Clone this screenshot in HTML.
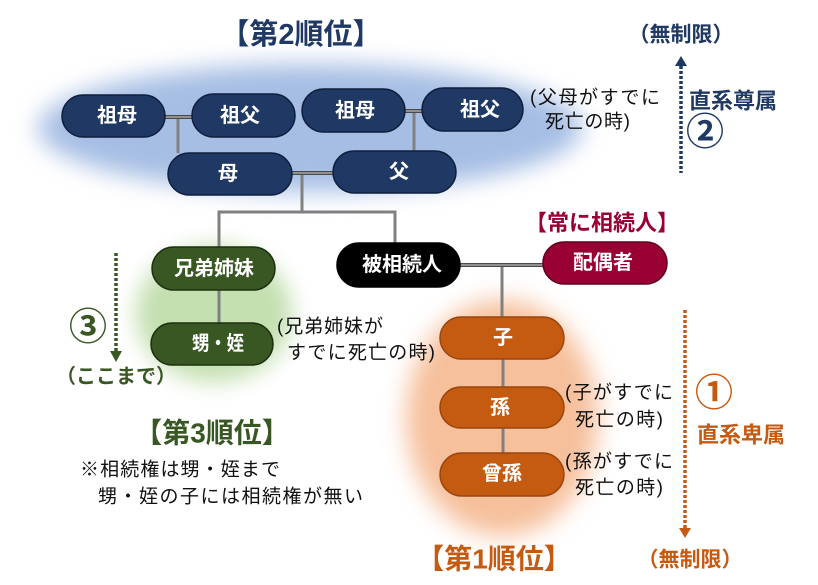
<!DOCTYPE html>
<html><head><meta charset="utf-8">
<style>
html,body{margin:0;padding:0;background:#fff;}
svg{display:block;}
text{font-family:"Liberation Sans","Noto Sans CJK JP",sans-serif;}
.n{font-weight:bold;font-size:20px;fill:#fff;text-anchor:middle;dominant-baseline:central;}
.t{font-size:19px;fill:#111;dominant-baseline:central;}
.b{font-weight:bold;dominant-baseline:central;}
</style></head>
<body>
<svg width="818" height="585" viewBox="0 0 818 585" xmlns="http://www.w3.org/2000/svg">
<defs>
<filter id="bl" x="-30%" y="-30%" width="160%" height="160%"><feGaussianBlur stdDeviation="12"/></filter>
<filter id="bl2" x="-30%" y="-30%" width="160%" height="160%"><feGaussianBlur stdDeviation="11"/></filter>
</defs>
<rect width="818" height="585" fill="#fff"/>

<!-- soft backgrounds -->
<ellipse cx="310" cy="128" rx="272" ry="64" fill="#a6bee4" filter="url(#bl)"/>
<ellipse cx="214" cy="314" rx="78" ry="68" fill="#c4dfb0" filter="url(#bl2)"/>
<ellipse cx="502" cy="418" rx="96" ry="118" fill="#f6c09b" filter="url(#bl)"/>

<!-- connectors -->
<g stroke="#808080" stroke-width="3" fill="none">
<line x1="178" y1="117" x2="178" y2="153"/>
<line x1="414" y1="111" x2="414" y2="151"/>
<line x1="302" y1="173" x2="302" y2="212"/>
<polyline points="219,247 219,212 395,212 395,243"/>
<line x1="219" y1="290" x2="219" y2="323"/>
<line x1="502" y1="265" x2="502" y2="317"/>
<line x1="503" y1="359" x2="503" y2="387"/>
<line x1="503" y1="428" x2="503" y2="453"/>
</g>
<g fill="none">
<g stroke="#4a4a4a" stroke-width="4">
<line x1="165" y1="117" x2="192" y2="117"/>
<line x1="405" y1="111" x2="422" y2="111"/>
<line x1="292" y1="173" x2="333" y2="173"/>
<line x1="460" y1="265" x2="543" y2="265"/>
</g>
<g stroke="#a8a8a8" stroke-width="1.5">
<line x1="165" y1="117" x2="192" y2="117"/>
<line x1="405" y1="111" x2="422" y2="111"/>
<line x1="292" y1="173" x2="333" y2="173"/>
<line x1="460" y1="265" x2="543" y2="265"/>
</g>
</g>

<!-- nodes -->
<g stroke-width="1.5">
<rect x="62" y="95" width="103" height="42" rx="21" fill="#1f3864" stroke="#0f1f3c"/>
<rect x="192" y="94" width="103" height="43" rx="21.5" fill="#1f3864" stroke="#0f1f3c"/>
<rect x="302" y="89" width="103" height="43" rx="21.5" fill="#1f3864" stroke="#0f1f3c"/>
<rect x="422" y="88" width="101" height="43" rx="21.5" fill="#1f3864" stroke="#0f1f3c"/>
<rect x="168" y="153" width="124" height="42" rx="21" fill="#1f3864" stroke="#0f1f3c"/>
<rect x="333" y="151" width="123" height="42" rx="21" fill="#1f3864" stroke="#0f1f3c"/>
<rect x="152" y="247" width="123" height="43" rx="21.5" fill="#385723" stroke="#1c3010"/>
<rect x="151" y="323" width="122" height="42" rx="21" fill="#385723" stroke="#1c3010"/>
<rect x="337" y="243" width="123" height="44" rx="22" fill="#000" stroke="#000"/>
<rect x="543" y="242" width="124" height="42" rx="21" fill="#990033" stroke="#5e001e"/>
<rect x="440" y="317" width="124" height="42" rx="21" fill="#c55a11" stroke="#9a4510"/>
<rect x="440" y="387" width="124" height="41" rx="20.5" fill="#c55a11" stroke="#9a4510"/>
<rect x="440" y="453" width="124" height="43" rx="21.5" fill="#c55a11" stroke="#9a4510"/>
</g>
<text class="n" x="117" y="116">祖母</text>
<text class="n" x="240" y="116">祖父</text>
<text class="n" x="355" y="111">祖母</text>
<text class="n" x="480" y="110">祖父</text>
<text class="n" x="228" y="174">母</text>
<text class="n" x="399" y="172">父</text>
<text class="n" x="214" y="269">兄弟姉妹</text>
<text class="n" x="218" y="344" textLength="52" lengthAdjust="spacingAndGlyphs">甥・姪</text>
<text class="n" x="402" y="265">被相続人</text>
<text class="n" x="603" y="263">配偶者</text>
<text class="n" x="503" y="338">子</text>
<text class="n" x="500" y="408">孫</text>
<text class="n" x="502" y="474">曾孫</text>

<!-- titles -->
<text class="b" x="301" y="35" font-size="29" fill="#1f3864" text-anchor="middle">【第2順位】</text>
<text class="b" x="212" y="433" font-size="28" fill="#385723" text-anchor="middle">【第3順位】</text>
<text class="b" x="494" y="559" font-size="28" fill="#c55a11" text-anchor="middle">【第1順位】</text>
<text class="b" x="602" y="223" font-size="22" fill="#990033" text-anchor="middle">【常に相続人】</text>

<!-- right side labels -->
<text class="b" x="681" y="35" font-size="21" fill="#1f3864" text-anchor="middle">（無制限）</text>
<text class="b" x="733" y="101" font-size="22" fill="#1f3864" text-anchor="middle">直系尊属</text>
<text class="b" x="705" y="133" font-size="38" fill="#1f3864" text-anchor="middle">②</text>
<text class="b" x="714" y="394" font-size="38" fill="#c55a11" text-anchor="middle">①</text>
<text class="b" x="741" y="435" font-size="22" fill="#c55a11" text-anchor="middle">直系卑属</text>
<text class="b" x="690" y="560" font-size="21" fill="#c55a11" text-anchor="middle">（無制限）</text>

<!-- left labels -->
<text class="b" x="88" y="328" font-size="38" fill="#385723" text-anchor="middle">③</text>
<text class="b" x="116" y="377" font-size="20" fill="#385723" text-anchor="middle">（ここまで）</text>

<!-- notes -->
<text class="t" x="530" y="98" textLength="130">(父母がすでに</text>
<text class="t" x="545" y="122" textLength="85">死亡の時)</text>
<text class="t" x="277" y="327" textLength="106">(兄弟姉妹が</text>
<text class="t" x="287" y="353" textLength="148">すでに死亡の時)</text>
<text class="t" x="565" y="393" textLength="108">(子がすでに</text>
<text class="t" x="575" y="420" textLength="88">死亡の時)</text>
<text class="t" x="565" y="462" textLength="108">(孫がすでに</text>
<text class="t" x="575" y="488" textLength="88">死亡の時)</text>
<text class="t" x="80" y="470" textLength="200">※相続権は甥・姪まで</text>
<text class="t" x="98" y="497" textLength="265">甥・姪の子には相続権が無い</text>

<!-- dotted arrows -->
<line x1="681" y1="66" x2="681" y2="173" stroke="#1f3864" stroke-width="3.5" stroke-dasharray="3 2"/>
<polygon points="681,56 675,66 687,66" fill="#1f3864"/>
<line x1="116" y1="253" x2="116" y2="351" stroke="#385723" stroke-width="3.5" stroke-dasharray="3 2"/>
<polygon points="116,362 110,351 122,351" fill="#385723"/>
<line x1="685" y1="310" x2="685" y2="528" stroke="#c55a11" stroke-width="3.5" stroke-dasharray="3 2"/>
<polygon points="685,538 679,528 691,528" fill="#c55a11"/>
</svg>
</body></html>
